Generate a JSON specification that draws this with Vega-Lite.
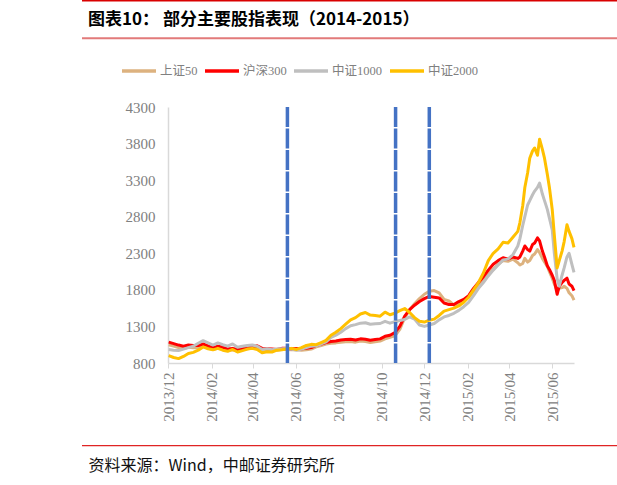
{
  "$schema": "https://vega.github.io/schema/vega-lite/v6.json",
  "width": 406,
  "height": 256,
  "autosize": "none",
  "padding": {"left": 168, "top": 107, "right": 43, "bottom": 122},
  "background": "white",
  "config": {"view": {"stroke": null}},
  "title": {
    "text": "图表10：  部分主要股指表现（2014-2015）",
    "anchor": "start",
    "frame": "group",
    "dx": -80,
    "offset": -29,
    "font": "Noto Sans CJK SC",
    "fontSize": 17,
    "fontWeight": "bold",
    "color": "#000000"
  },
  "datasets": {
    "indices": [
      {"d":"2013-12-02","s":"上证50","v":1050},{"d":"2013-12-09","s":"上证50","v":1030},{"d":"2013-12-16","s":"上证50","v":1010},{"d":"2013-12-23","s":"上证50","v":1000},{"d":"2013-12-30","s":"上证50","v":1015},
      {"d":"2014-01-06","s":"上证50","v":1010},{"d":"2014-01-13","s":"上证50","v":1010},{"d":"2014-01-20","s":"上证50","v":1030},{"d":"2014-01-27","s":"上证50","v":1005},{"d":"2014-02-03","s":"上证50","v":985},
      {"d":"2014-02-10","s":"上证50","v":1005},{"d":"2014-02-17","s":"上证50","v":990},{"d":"2014-02-24","s":"上证50","v":970},{"d":"2014-03-03","s":"上证50","v":980},{"d":"2014-03-10","s":"上证50","v":965},
      {"d":"2014-03-17","s":"上证50","v":980},{"d":"2014-03-24","s":"上证50","v":995},{"d":"2014-03-31","s":"上证50","v":1005},{"d":"2014-04-07","s":"上证50","v":1020},{"d":"2014-04-14","s":"上证50","v":990},
      {"d":"2014-04-21","s":"上证50","v":985},{"d":"2014-04-28","s":"上证50","v":980},{"d":"2014-05-05","s":"上证50","v":975},{"d":"2014-05-12","s":"上证50","v":985},{"d":"2014-05-19","s":"上证50","v":985},
      {"d":"2014-05-26","s":"上证50","v":980},{"d":"2014-06-02","s":"上证50","v":980},{"d":"2014-06-09","s":"上证50","v":975},{"d":"2014-06-16","s":"上证50","v":980},{"d":"2014-06-23","s":"上证50","v":990},
      {"d":"2014-06-30","s":"上证50","v":1020},{"d":"2014-07-07","s":"上证50","v":1040},{"d":"2014-07-14","s":"上证50","v":1060},{"d":"2014-07-21","s":"上证50","v":1070},{"d":"2014-07-28","s":"上证50","v":1075},
      {"d":"2014-08-04","s":"上证50","v":1085},{"d":"2014-08-11","s":"上证50","v":1090},{"d":"2014-08-18","s":"上证50","v":1095},{"d":"2014-08-25","s":"上证50","v":1085},{"d":"2014-09-01","s":"上证50","v":1100},
      {"d":"2014-09-08","s":"上证50","v":1095},{"d":"2014-09-15","s":"上证50","v":1080},{"d":"2014-09-22","s":"上证50","v":1090},{"d":"2014-09-29","s":"上证50","v":1100},{"d":"2014-10-06","s":"上证50","v":1130},
      {"d":"2014-10-13","s":"上证50","v":1150},{"d":"2014-10-20","s":"上证50","v":1170},{"d":"2014-10-27","s":"上证50","v":1260},{"d":"2014-11-03","s":"上证50","v":1420},{"d":"2014-11-10","s":"上证50","v":1530},
      {"d":"2014-11-17","s":"上证50","v":1610},{"d":"2014-11-24","s":"上证50","v":1680},{"d":"2014-12-01","s":"上证50","v":1740},{"d":"2014-12-08","s":"上证50","v":1780},{"d":"2014-12-15","s":"上证50","v":1790},
      {"d":"2014-12-22","s":"上证50","v":1760},{"d":"2014-12-29","s":"上证50","v":1670},{"d":"2015-01-05","s":"上证50","v":1650},{"d":"2015-01-12","s":"上证50","v":1590},{"d":"2015-01-19","s":"上证50","v":1610},
      {"d":"2015-01-26","s":"上证50","v":1650},{"d":"2015-02-02","s":"上证50","v":1700},{"d":"2015-02-09","s":"上证50","v":1780},{"d":"2015-02-16","s":"上证50","v":1860},{"d":"2015-02-23","s":"上证50","v":1930},
      {"d":"2015-03-02","s":"上证50","v":2010},{"d":"2015-03-09","s":"上证50","v":2080},{"d":"2015-03-16","s":"上证50","v":2150},{"d":"2015-03-23","s":"上证50","v":2200},{"d":"2015-03-30","s":"上证50","v":2190},
      {"d":"2015-04-06","s":"上证50","v":2220},{"d":"2015-04-13","s":"上证50","v":2170},{"d":"2015-04-16","s":"上证50","v":2140},{"d":"2015-04-20","s":"上证50","v":2160},{"d":"2015-04-23","s":"上证50","v":2230},
      {"d":"2015-04-27","s":"上证50","v":2180},{"d":"2015-04-30","s":"上证50","v":2200},{"d":"2015-05-04","s":"上证50","v":2270},{"d":"2015-05-07","s":"上证50","v":2290},{"d":"2015-05-11","s":"上证50","v":2350},
      {"d":"2015-05-14","s":"上证50","v":2310},{"d":"2015-05-18","s":"上证50","v":2230},{"d":"2015-05-21","s":"上证50","v":2180},{"d":"2015-05-25","s":"上证50","v":2120},{"d":"2015-05-28","s":"上证50","v":2050},
      {"d":"2015-06-01","s":"上证50","v":1960},{"d":"2015-06-04","s":"上证50","v":1880},{"d":"2015-06-08","s":"上证50","v":1790},{"d":"2015-06-11","s":"上证50","v":1820},{"d":"2015-06-15","s":"上证50","v":1830},
      {"d":"2015-06-18","s":"上证50","v":1850},{"d":"2015-06-22","s":"上证50","v":1820},{"d":"2015-06-25","s":"上证50","v":1760},{"d":"2015-06-29","s":"上证50","v":1720},{"d":"2015-07-02","s":"上证50","v":1660},

      {"d":"2013-12-02","s":"沪深300","v":1085},{"d":"2013-12-09","s":"沪深300","v":1065},{"d":"2013-12-16","s":"沪深300","v":1045},{"d":"2013-12-23","s":"沪深300","v":1030},{"d":"2013-12-30","s":"沪深300","v":1045},
      {"d":"2014-01-06","s":"沪深300","v":1040},{"d":"2014-01-13","s":"沪深300","v":1040},{"d":"2014-01-20","s":"沪深300","v":1060},{"d":"2014-01-27","s":"沪深300","v":1035},{"d":"2014-02-03","s":"沪深300","v":1010},
      {"d":"2014-02-10","s":"沪深300","v":1030},{"d":"2014-02-17","s":"沪深300","v":1015},{"d":"2014-02-24","s":"沪深300","v":990},{"d":"2014-03-03","s":"沪深300","v":1000},{"d":"2014-03-10","s":"沪深300","v":985},
      {"d":"2014-03-17","s":"沪深300","v":995},{"d":"2014-03-24","s":"沪深300","v":1010},{"d":"2014-03-31","s":"沪深300","v":1020},{"d":"2014-04-07","s":"沪深300","v":1035},{"d":"2014-04-14","s":"沪深300","v":1000},
      {"d":"2014-04-21","s":"沪深300","v":995},{"d":"2014-04-28","s":"沪深300","v":990},{"d":"2014-05-05","s":"沪深300","v":985},{"d":"2014-05-12","s":"沪深300","v":1000},{"d":"2014-05-19","s":"沪深300","v":1000},
      {"d":"2014-05-26","s":"沪深300","v":995},{"d":"2014-06-02","s":"沪深300","v":1000},{"d":"2014-06-09","s":"沪深300","v":995},{"d":"2014-06-16","s":"沪深300","v":1000},{"d":"2014-06-23","s":"沪深300","v":1010},
      {"d":"2014-06-30","s":"沪深300","v":1040},{"d":"2014-07-07","s":"沪深300","v":1060},{"d":"2014-07-14","s":"沪深300","v":1080},{"d":"2014-07-21","s":"沪深300","v":1095},{"d":"2014-07-28","s":"沪深300","v":1100},
      {"d":"2014-08-04","s":"沪深300","v":1115},{"d":"2014-08-11","s":"沪深300","v":1120},{"d":"2014-08-18","s":"沪深300","v":1125},{"d":"2014-08-25","s":"沪深300","v":1115},{"d":"2014-09-01","s":"沪深300","v":1130},
      {"d":"2014-09-08","s":"沪深300","v":1125},{"d":"2014-09-15","s":"沪深300","v":1110},{"d":"2014-09-22","s":"沪深300","v":1120},{"d":"2014-09-29","s":"沪深300","v":1130},{"d":"2014-10-06","s":"沪深300","v":1165},
      {"d":"2014-10-13","s":"沪深300","v":1180},{"d":"2014-10-20","s":"沪深300","v":1215},{"d":"2014-10-27","s":"沪深300","v":1300},{"d":"2014-11-03","s":"沪深300","v":1440},{"d":"2014-11-10","s":"沪深300","v":1530},
      {"d":"2014-11-17","s":"沪深300","v":1590},{"d":"2014-11-24","s":"沪深300","v":1640},{"d":"2014-12-01","s":"沪深300","v":1680},{"d":"2014-12-08","s":"沪深300","v":1710},{"d":"2014-12-15","s":"沪深300","v":1700},
      {"d":"2014-12-22","s":"沪深300","v":1690},{"d":"2014-12-29","s":"沪深300","v":1620},{"d":"2015-01-05","s":"沪深300","v":1600},{"d":"2015-01-12","s":"沪深300","v":1600},{"d":"2015-01-19","s":"沪深300","v":1640},
      {"d":"2015-01-26","s":"沪深300","v":1670},{"d":"2015-02-02","s":"沪深300","v":1720},{"d":"2015-02-09","s":"沪深300","v":1820},{"d":"2015-02-16","s":"沪深300","v":1900},{"d":"2015-02-23","s":"沪深300","v":1980},
      {"d":"2015-03-02","s":"沪深300","v":2070},{"d":"2015-03-09","s":"沪深300","v":2150},{"d":"2015-03-16","s":"沪深300","v":2200},{"d":"2015-03-23","s":"沪深300","v":2240},{"d":"2015-03-30","s":"沪深300","v":2220},
      {"d":"2015-04-06","s":"沪深300","v":2250},{"d":"2015-04-13","s":"沪深300","v":2230},{"d":"2015-04-16","s":"沪深300","v":2250},{"d":"2015-04-20","s":"沪深300","v":2330},{"d":"2015-04-23","s":"沪深300","v":2400},
      {"d":"2015-04-27","s":"沪深300","v":2350},{"d":"2015-04-30","s":"沪深300","v":2330},{"d":"2015-05-04","s":"沪深300","v":2420},{"d":"2015-05-07","s":"沪深300","v":2440},{"d":"2015-05-11","s":"沪深300","v":2510},
      {"d":"2015-05-14","s":"沪深300","v":2470},{"d":"2015-05-18","s":"沪深300","v":2330},{"d":"2015-05-21","s":"沪深300","v":2250},{"d":"2015-05-25","s":"沪深300","v":2130},{"d":"2015-05-28","s":"沪深300","v":2080},
      {"d":"2015-06-01","s":"沪深300","v":2000},{"d":"2015-06-04","s":"沪深300","v":1930},{"d":"2015-06-08","s":"沪深300","v":1740},{"d":"2015-06-11","s":"沪深300","v":1850},{"d":"2015-06-15","s":"沪深300","v":1900},
      {"d":"2015-06-18","s":"沪深300","v":1930},{"d":"2015-06-22","s":"沪深300","v":1960},{"d":"2015-06-25","s":"沪深300","v":1880},{"d":"2015-06-29","s":"沪深300","v":1850},{"d":"2015-07-02","s":"沪深300","v":1790},

      {"d":"2013-12-02","s":"中证1000","v":985},{"d":"2013-12-09","s":"中证1000","v":975},{"d":"2013-12-16","s":"中证1000","v":970},{"d":"2013-12-23","s":"中证1000","v":990},{"d":"2013-12-30","s":"中证1000","v":1010},
      {"d":"2014-01-06","s":"中证1000","v":1030},{"d":"2014-01-13","s":"中证1000","v":1070},{"d":"2014-01-20","s":"中证1000","v":1105},{"d":"2014-01-27","s":"中证1000","v":1075},{"d":"2014-02-03","s":"中证1000","v":1045},
      {"d":"2014-02-10","s":"中证1000","v":1075},{"d":"2014-02-17","s":"中证1000","v":1050},{"d":"2014-02-24","s":"中证1000","v":1030},{"d":"2014-03-03","s":"中证1000","v":1060},{"d":"2014-03-10","s":"中证1000","v":1015},
      {"d":"2014-03-17","s":"中证1000","v":1030},{"d":"2014-03-24","s":"中证1000","v":1040},{"d":"2014-03-31","s":"中证1000","v":1045},{"d":"2014-04-07","s":"中证1000","v":1030},{"d":"2014-04-14","s":"中证1000","v":985},
      {"d":"2014-04-21","s":"中证1000","v":995},{"d":"2014-04-28","s":"中证1000","v":980},{"d":"2014-05-05","s":"中证1000","v":990},{"d":"2014-05-12","s":"中证1000","v":995},{"d":"2014-05-19","s":"中证1000","v":1000},
      {"d":"2014-05-26","s":"中证1000","v":990},{"d":"2014-06-02","s":"中证1000","v":975},{"d":"2014-06-09","s":"中证1000","v":990},{"d":"2014-06-16","s":"中证1000","v":1010},{"d":"2014-06-23","s":"中证1000","v":1030},
      {"d":"2014-06-30","s":"中证1000","v":1035},{"d":"2014-07-07","s":"中证1000","v":1060},{"d":"2014-07-14","s":"中证1000","v":1090},{"d":"2014-07-21","s":"中证1000","v":1150},{"d":"2014-07-28","s":"中证1000","v":1180},
      {"d":"2014-08-04","s":"中证1000","v":1220},{"d":"2014-08-11","s":"中证1000","v":1270},{"d":"2014-08-18","s":"中证1000","v":1310},{"d":"2014-08-25","s":"中证1000","v":1325},{"d":"2014-09-01","s":"中证1000","v":1345},
      {"d":"2014-09-08","s":"中证1000","v":1350},{"d":"2014-09-15","s":"中证1000","v":1330},{"d":"2014-09-22","s":"中证1000","v":1335},{"d":"2014-09-29","s":"中证1000","v":1340},{"d":"2014-10-06","s":"中证1000","v":1370},
      {"d":"2014-10-13","s":"中证1000","v":1345},{"d":"2014-10-20","s":"中证1000","v":1365},{"d":"2014-10-27","s":"中证1000","v":1380},{"d":"2014-11-03","s":"中证1000","v":1395},{"d":"2014-11-10","s":"中证1000","v":1430},
      {"d":"2014-11-17","s":"中证1000","v":1400},{"d":"2014-11-24","s":"中证1000","v":1320},{"d":"2014-12-01","s":"中证1000","v":1300},{"d":"2014-12-08","s":"中证1000","v":1320},{"d":"2014-12-15","s":"中证1000","v":1340},
      {"d":"2014-12-22","s":"中证1000","v":1390},{"d":"2014-12-29","s":"中证1000","v":1430},{"d":"2015-01-05","s":"中证1000","v":1450},{"d":"2015-01-12","s":"中证1000","v":1480},{"d":"2015-01-19","s":"中证1000","v":1520},
      {"d":"2015-01-26","s":"中证1000","v":1570},{"d":"2015-02-02","s":"中证1000","v":1630},{"d":"2015-02-09","s":"中证1000","v":1720},{"d":"2015-02-16","s":"中证1000","v":1820},{"d":"2015-02-23","s":"中证1000","v":1900},
      {"d":"2015-03-02","s":"中证1000","v":1990},{"d":"2015-03-09","s":"中证1000","v":2070},{"d":"2015-03-16","s":"中证1000","v":2140},{"d":"2015-03-23","s":"中证1000","v":2210},{"d":"2015-03-30","s":"中证1000","v":2220},
      {"d":"2015-04-06","s":"中证1000","v":2280},{"d":"2015-04-13","s":"中证1000","v":2400},{"d":"2015-04-16","s":"中证1000","v":2500},{"d":"2015-04-20","s":"中证1000","v":2680},{"d":"2015-04-23","s":"中证1000","v":2800},
      {"d":"2015-04-27","s":"中证1000","v":2960},{"d":"2015-04-30","s":"中证1000","v":3020},{"d":"2015-05-04","s":"中证1000","v":3100},{"d":"2015-05-07","s":"中证1000","v":3150},{"d":"2015-05-11","s":"中证1000","v":3200},
      {"d":"2015-05-14","s":"中证1000","v":3260},{"d":"2015-05-18","s":"中证1000","v":3110},{"d":"2015-05-21","s":"中证1000","v":3020},{"d":"2015-05-25","s":"中证1000","v":2900},{"d":"2015-05-28","s":"中证1000","v":2780},
      {"d":"2015-06-01","s":"中证1000","v":2620},{"d":"2015-06-04","s":"中证1000","v":2300},{"d":"2015-06-08","s":"中证1000","v":1950},{"d":"2015-06-11","s":"中证1000","v":1850},{"d":"2015-06-15","s":"中证1000","v":2000},
      {"d":"2015-06-18","s":"中证1000","v":2100},{"d":"2015-06-22","s":"中证1000","v":2250},{"d":"2015-06-25","s":"中证1000","v":2300},{"d":"2015-06-29","s":"中证1000","v":2150},{"d":"2015-07-02","s":"中证1000","v":2040},

      {"d":"2013-12-02","s":"中证2000","v":900},{"d":"2013-12-09","s":"中证2000","v":875},{"d":"2013-12-16","s":"中证2000","v":860},{"d":"2013-12-23","s":"中证2000","v":890},{"d":"2013-12-30","s":"中证2000","v":930},
      {"d":"2014-01-06","s":"中证2000","v":945},{"d":"2014-01-13","s":"中证2000","v":975},{"d":"2014-01-20","s":"中证2000","v":1020},{"d":"2014-01-27","s":"中证2000","v":995},{"d":"2014-02-03","s":"中证2000","v":980},
      {"d":"2014-02-10","s":"中证2000","v":1000},{"d":"2014-02-17","s":"中证2000","v":975},{"d":"2014-02-24","s":"中证2000","v":960},{"d":"2014-03-03","s":"中证2000","v":985},{"d":"2014-03-10","s":"中证2000","v":950},
      {"d":"2014-03-17","s":"中证2000","v":970},{"d":"2014-03-24","s":"中证2000","v":990},{"d":"2014-03-31","s":"中证2000","v":1000},{"d":"2014-04-07","s":"中证2000","v":985},{"d":"2014-04-14","s":"中证2000","v":940},
      {"d":"2014-04-21","s":"中证2000","v":955},{"d":"2014-04-28","s":"中证2000","v":950},{"d":"2014-05-05","s":"中证2000","v":975},{"d":"2014-05-12","s":"中证2000","v":980},{"d":"2014-05-19","s":"中证2000","v":990},
      {"d":"2014-05-26","s":"中证2000","v":1000},{"d":"2014-06-02","s":"中证2000","v":985},{"d":"2014-06-09","s":"中证2000","v":1010},{"d":"2014-06-16","s":"中证2000","v":1040},{"d":"2014-06-23","s":"中证2000","v":1055},
      {"d":"2014-06-30","s":"中证2000","v":1050},{"d":"2014-07-07","s":"中证2000","v":1080},{"d":"2014-07-14","s":"中证2000","v":1110},{"d":"2014-07-21","s":"中证2000","v":1180},{"d":"2014-07-28","s":"中证2000","v":1220},
      {"d":"2014-08-04","s":"中证2000","v":1270},{"d":"2014-08-11","s":"中证2000","v":1330},{"d":"2014-08-18","s":"中证2000","v":1390},{"d":"2014-08-25","s":"中证2000","v":1420},{"d":"2014-09-01","s":"中证2000","v":1470},
      {"d":"2014-09-08","s":"中证2000","v":1490},{"d":"2014-09-15","s":"中证2000","v":1455},{"d":"2014-09-22","s":"中证2000","v":1450},{"d":"2014-09-29","s":"中证2000","v":1440},{"d":"2014-10-06","s":"中证2000","v":1495},
      {"d":"2014-10-13","s":"中证2000","v":1460},{"d":"2014-10-20","s":"中证2000","v":1480},{"d":"2014-10-27","s":"中证2000","v":1515},{"d":"2014-11-03","s":"中证2000","v":1545},{"d":"2014-11-10","s":"中证2000","v":1490},
      {"d":"2014-11-17","s":"中证2000","v":1420},{"d":"2014-11-24","s":"中证2000","v":1370},{"d":"2014-12-01","s":"中证2000","v":1360},{"d":"2014-12-08","s":"中证2000","v":1385},{"d":"2014-12-15","s":"中证2000","v":1400},
      {"d":"2014-12-22","s":"中证2000","v":1450},{"d":"2014-12-29","s":"中证2000","v":1510},{"d":"2015-01-05","s":"中证2000","v":1530},{"d":"2015-01-12","s":"中证2000","v":1550},{"d":"2015-01-19","s":"中证2000","v":1580},
      {"d":"2015-01-26","s":"中证2000","v":1630},{"d":"2015-02-02","s":"中证2000","v":1700},{"d":"2015-02-09","s":"中证2000","v":1800},{"d":"2015-02-16","s":"中证2000","v":1900},{"d":"2015-02-23","s":"中证2000","v":2030},
      {"d":"2015-03-02","s":"中证2000","v":2200},{"d":"2015-03-09","s":"中证2000","v":2300},{"d":"2015-03-16","s":"中证2000","v":2360},{"d":"2015-03-23","s":"中证2000","v":2450},{"d":"2015-03-30","s":"中证2000","v":2440},
      {"d":"2015-04-06","s":"中证2000","v":2520},{"d":"2015-04-13","s":"中证2000","v":2600},{"d":"2015-04-16","s":"中证2000","v":2720},{"d":"2015-04-20","s":"中证2000","v":2950},{"d":"2015-04-23","s":"中证2000","v":3200},
      {"d":"2015-04-27","s":"中证2000","v":3400},{"d":"2015-04-30","s":"中证2000","v":3600},{"d":"2015-05-04","s":"中证2000","v":3700},{"d":"2015-05-07","s":"中证2000","v":3740},{"d":"2015-05-11","s":"中证2000","v":3640},
      {"d":"2015-05-14","s":"中证2000","v":3860},{"d":"2015-05-18","s":"中证2000","v":3720},{"d":"2015-05-21","s":"中证2000","v":3600},{"d":"2015-05-25","s":"中证2000","v":3380},{"d":"2015-05-28","s":"中证2000","v":3200},
      {"d":"2015-06-01","s":"中证2000","v":2900},{"d":"2015-06-04","s":"中证2000","v":2550},{"d":"2015-06-08","s":"中证2000","v":2100},{"d":"2015-06-11","s":"中证2000","v":2200},{"d":"2015-06-15","s":"中证2000","v":2330},
      {"d":"2015-06-18","s":"中证2000","v":2460},{"d":"2015-06-22","s":"中证2000","v":2690},{"d":"2015-06-25","s":"中证2000","v":2600},{"d":"2015-06-29","s":"中证2000","v":2500},{"d":"2015-07-02","s":"中证2000","v":2380}
    ],
    "events": [
      {"d": "2014-05-20"},
      {"d": "2014-10-21"},
      {"d": "2014-12-08"}
    ]
  },
  "layer": [
    {
      "data": {"values": [{}]},
      "mark": {"type": "rule", "color": "#D90000", "strokeWidth": 1.5},
      "encoding": {"x": {"value": -86}, "x2": {"value": 449}, "y": {"value": -106.3}}
    },
    {
      "data": {"values": [{}]},
      "mark": {"type": "rule", "color": "#E27A7A", "strokeWidth": 2},
      "encoding": {"x": {"value": -86}, "x2": {"value": 449}, "y": {"value": -68.7}}
    },
    {
      "data": {"values": [{}]},
      "mark": {"type": "rule", "color": "#E02424", "strokeWidth": 1.2},
      "encoding": {"x": {"value": -86}, "x2": {"value": 449}, "y": {"value": 338.7}}
    },
    {
      "data": {"name": "indices"},
      "mark": {"type": "line", "strokeWidth": 3, "strokeJoin": "round"},
      "encoding": {
        "x": {
          "field": "d",
          "type": "temporal",
          "scale": {
            "type": "utc",
            "nice": false,
            "domain": [
              {"year": 2013, "month": 12, "date": 1, "utc": true},
              {"year": 2015, "month": 7, "date": 2, "utc": true}
            ]
          },
          "axis": {
            "values": [
              {"year": 2013, "month": 12, "date": 1, "utc": true},
              {"year": 2014, "month": 2, "date": 1, "utc": true},
              {"year": 2014, "month": 4, "date": 1, "utc": true},
              {"year": 2014, "month": 6, "date": 1, "utc": true},
              {"year": 2014, "month": 8, "date": 1, "utc": true},
              {"year": 2014, "month": 10, "date": 1, "utc": true},
              {"year": 2014, "month": 12, "date": 1, "utc": true},
              {"year": 2015, "month": 2, "date": 1, "utc": true},
              {"year": 2015, "month": 4, "date": 1, "utc": true},
              {"year": 2015, "month": 6, "date": 1, "utc": true}
            ],
            "format": "%Y/%m",
            "labelAngle": -90,
            "labelAlign": "right",
            "labelBaseline": "middle",
            "labelFont": "Liberation Serif",
            "labelFontSize": 15,
            "labelColor": "#808080",
            "labelPadding": 4,
            "labelFlush": false,
            "labelOverlap": false,
            "labelBound": false,
            "domainColor": "#D9D9D9",
            "domainWidth": 1.5,
            "tickColor": "#D9D9D9",
            "tickSize": 5,
            "grid": false,
            "title": "资料来源：Wind，中邮证券研究所",
            "titleX": -80,
            "titleY": 102,
            "titleAlign": "left",
            "titleBaseline": "middle",
            "titleAngle": 0,
            "titleFont": "Noto Sans CJK SC",
            "titleFontSize": 16,
            "titleFontWeight": "normal",
            "titleColor": "#111111"
          }
        },
        "y": {
          "field": "v",
          "type": "quantitative",
          "scale": {"domain": [800, 4300], "nice": false, "zero": false},
          "axis": {
            "values": [800, 1300, 1800, 2300, 2800, 3300, 3800, 4300],
            "format": "d",
            "labelFont": "Liberation Serif",
            "labelFontSize": 15,
            "labelColor": "#808080",
            "labelPadding": 13,
            "labelFlush": false,
            "labelOverlap": false,
            "domainColor": "#D9D9D9",
            "domainWidth": 1.5,
            "ticks": false,
            "grid": false,
            "title": null
          }
        },
        "color": {
          "field": "s",
          "type": "nominal",
          "scale": {
            "domain": ["上证50", "沪深300", "中证1000", "中证2000"],
            "range": ["#DDB27F", "#FF0000", "#BFBFBF", "#FFC000"]
          },
          "legend": {
            "orient": "none",
            "legendX": -48,
            "legendY": -55,
            "direction": "horizontal",
            "title": null,
            "padding": 0,
            "symbolType": "stroke",
            "symbolSize": 1156,
            "symbolStrokeWidth": 3.5,
            "labelFont": "Liberation Serif, Noto Sans CJK SC",
            "labelFontSize": 12.5,
            "labelColor": "#808080",
            "labelOffset": 2,
            "columnPadding": 0
          }
        }
      }
    },
    {
      "data": {"name": "events"},
      "mark": {"type": "rule", "color": "#4472C4", "strokeWidth": 3.5, "strokeDash": [20, 1.5]},
      "encoding": {"x": {"field": "d", "type": "temporal"}}
    }
  ]
}
